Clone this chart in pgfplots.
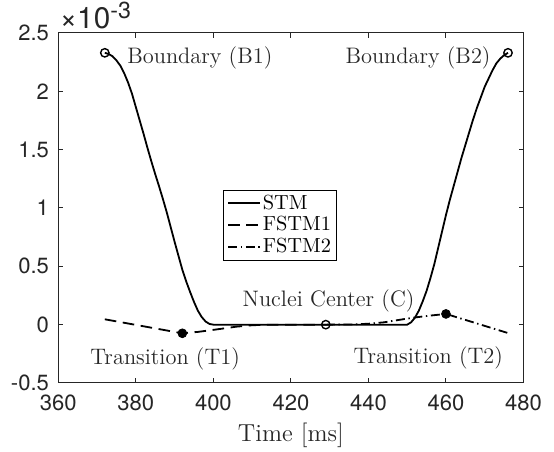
\documentclass[border=0pt]{standalone}
\usepackage{fontspec}
\usepackage{graphicx}
\usepackage{pgfplots}
\pgfplotsset{compat=1.18}
\newfontfamily\hel{TeX Gyre Heros}
\definecolor{axgray}{gray}{0.15}

\begin{document}
\begin{tikzpicture}
\begin{axis}[
    name=ax,
    scale only axis,
    width=232.6pt, height=175pt,
    xmin=360, xmax=480,
    ymin=-0.5, ymax=2.5,
    xtick={360,380,...,480},
    ytick={-0.5,0,0.5,1,1.5,2,2.5},
    tick align=inside,
    major tick length=2.3pt,
    axis line style={axgray, line width=0.5pt},
    every tick/.style={axgray, line width=0.5pt},
    /pgf/number format/assume math mode=true,
    tick label style={font=\hel\fontsize{11}{13}\selectfont, text=axgray, inner sep=0pt},
    xticklabel style={yshift=-6pt},
    yticklabel style={xshift=-4.5pt},
    xlabel={Time [ms]},
    xlabel style={at={(axis description cs:0.5,0)}, anchor=base, yshift=-29.35pt,
        inner sep=0pt, font=\fontsize{12.3}{14}\selectfont, text=axgray},
    legend style={at={(0.4766,0.451)}, anchor=center, draw=black, line width=0.5pt,
        font=\fontsize{10.2}{12}\selectfont, inner xsep=2pt, inner ysep=1.5pt,
        nodes={inner sep=0.8pt}, row sep=0.6pt},
    legend cell align=left,
    legend image code/.code={\draw[#1] (0pt,0pt) -- (16pt,0pt);},
    clip=false,
]

% STM
\addplot[black, line width=0.9pt] coordinates {
(372,2.33) (373,2.32) (374,2.30) (375,2.265) (376,2.22) (377,2.155) (378,2.075)
(379,1.98) (380,1.865) (381,1.75) (382,1.635) (383,1.515) (384,1.40) (385,1.29)
(386,1.185) (387,1.075) (388,0.96) (389,0.835) (390,0.71) (391,0.59) (392,0.47)
(393,0.37) (394,0.28) (395,0.195) (396,0.12) (397,0.065) (398,0.027) (399,0.006)
(400,0) (410,0) (420,0) (430,0) (440,0) (450,0)
(451,0.02) (452,0.06) (453,0.12) (454,0.20) (455,0.29) (456,0.40) (457,0.52)
(458,0.66) (459,0.80) (460,0.94) (461,1.07) (462,1.19) (463,1.31) (464,1.43)
(465,1.54) (466,1.65) (467,1.76) (468,1.86) (469,1.95) (470,2.04) (471,2.11)
(472,2.18) (473,2.24) (474,2.28) (475,2.31) (476,2.33)};
\addlegendentry{STM}

% FSTM1
\addplot[black, line width=0.9pt, dash pattern=on 5.8pt off 3.3pt] coordinates {
(372,0.046) (392,-0.074) (396,-0.062) (401,-0.040) (406,-0.017) (410,-0.005)
(414,0) (429,0)};
\addlegendentry{FSTM1}

% FSTM2
\addplot[black, line width=0.9pt, dash pattern=on 4.5pt off 1.8pt on 0.7pt off 1.8pt] coordinates {
(429,0) (436,0.002) (440,0.008) (444,0.020) (447,0.036) (450,0.052) (453,0.066)
(456,0.078) (460,0.092) (476,-0.072)};
\addlegendentry{FSTM2}

% key points
\addplot[only marks, mark=o, mark size=2.1pt, black, line width=0.7pt, forget plot]
    coordinates {(372,2.33) (476,2.33) (429,0)};
\addplot[only marks, mark=*, mark size=2.2pt, black, forget plot]
    coordinates {(392,-0.074) (460,0.092)};

\begin{scope}[every node/.style={inner sep=0pt, text=axgray, font=\fontsize{11.2}{13}\selectfont}]
\node[anchor=base west] at (axis cs:377.7,2.24) {Boundary (B1)};
\node[anchor=base east] at (axis cs:471.6,2.24) {Boundary (B2)};
\node[anchor=base] at (axis cs:429.7,0.155) {Nuclei Center (C)};
\node[anchor=base west] at (axis cs:368.2,-0.345) {Transition (T1)};
\node[anchor=base east] at (axis cs:474.8,-0.331) {Transition (T2)};
\end{scope}
\end{axis}

% exponent label of the y axis
\node[anchor=base west, inner sep=0pt, text=axgray, font=\hel\fontsize{11}{13}\selectfont]
    at ([xshift=0.6pt,yshift=2.35pt]ax.north west)
    {\scalebox{1.35}{×10\raisebox{3.6pt}{\fontsize{8.6}{10}\selectfont -3}}};

\pgfresetboundingbox
\path[use as bounding box] ([xshift=-29.15pt,yshift=-34.5pt]ax.south west)
    rectangle ([xshift=15.25pt,yshift=16.5pt]ax.north east);
\end{tikzpicture}
\end{document}
